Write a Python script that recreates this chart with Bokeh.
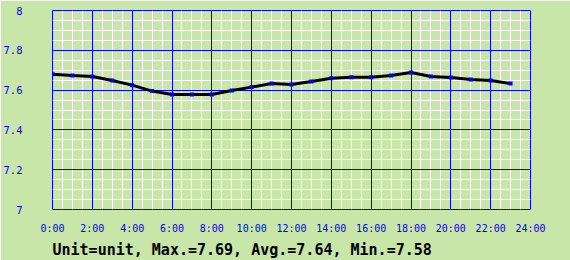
from bokeh.plotting import figure
from bokeh.models import FixedTicker, Range1d, CustomJSTickFormatter, Title, Grid
from bokeh.embed import file_html
from bokeh.resources import INLINE

hours = list(range(24))
values = [7.680, 7.673, 7.668, 7.648, 7.625, 7.595, 7.578, 7.578, 7.578, 7.598,
          7.615, 7.633, 7.628, 7.643, 7.660, 7.665, 7.665, 7.673, 7.688, 7.668,
          7.663, 7.653, 7.648, 7.633]
x_major = list(range(0, 25, 2))
y_major = [7.0, 7.2, 7.4, 7.6, 7.8, 8.0]
summary_text = "Unit=unit, Max.=7.69, Avg.=7.64, Min.=7.58"

BG = "#c8e6a8"
BLUE = "#0000ff"

x_minor = [m + k * 0.5 for m in x_major[:-1] for k in (1, 2, 3)]
y_minor = [round(m + k * 0.05, 3) for m in y_major[:-1] for k in (1, 2, 3)]

p = figure(width=570, height=260, output_backend="svg", toolbar_location=None,
           x_range=Range1d(0, 24), y_range=Range1d(7, 8),
           min_border_left=50, min_border_right=40, min_border_top=10, min_border_bottom=0)
p.background_fill_color = BG
p.border_fill_color = BG
p.outline_line_color = BLUE
p.outline_line_width = 1
p.xgrid.visible = False
p.ygrid.visible = False

p.xaxis.ticker = FixedTicker(ticks=x_major)
p.yaxis.ticker = FixedTicker(ticks=y_major)

p.add_layout(Grid(dimension=0, ticker=FixedTicker(ticks=x_minor), grid_line_color="white", grid_line_width=1))
p.add_layout(Grid(dimension=1, ticker=FixedTicker(ticks=y_minor), grid_line_color="white", grid_line_width=1))
p.add_layout(Grid(dimension=0, ticker=FixedTicker(ticks=x_major), grid_line_color=BLUE, grid_line_width=1))
p.add_layout(Grid(dimension=1, ticker=FixedTicker(ticks=y_major), grid_line_color=BLUE, grid_line_width=1))

p.xaxis.formatter = CustomJSTickFormatter(code="return Math.round(tick) + ':00';")
p.yaxis.formatter = CustomJSTickFormatter(code="return (Math.round(tick*10)/10).toString();")

for ax in (p.xaxis, p.yaxis):
    ax.axis_line_color = None
    ax.major_tick_line_color = None
    ax.minor_tick_line_color = None
    ax.major_tick_out = 0
    ax.major_tick_in = 0
    ax.minor_tick_out = 0
    ax.major_label_text_color = BLUE
    ax.major_label_text_font = "DejaVu Sans Mono"
    ax.major_label_text_font_size = "10px"

p.xaxis.major_label_standoff = 13
p.yaxis.major_label_text_align = "left"
p.yaxis.major_label_standoff = 30
p.yaxis.major_label_text_font_size = "10.5px"

p.line(hours, values, line_color="black", line_width=3)
p.scatter(hours, values, marker="square", size=4, fill_color=BLUE, line_color=None)

t = Title(text=summary_text, align="left", text_font="DejaVu Sans Mono",
          text_font_style="bold", text_font_size="15px", text_color="black",
          standoff=4, offset=0)
p.add_layout(t, "below")

open("out.html", "w").write(file_html(p, INLINE))
